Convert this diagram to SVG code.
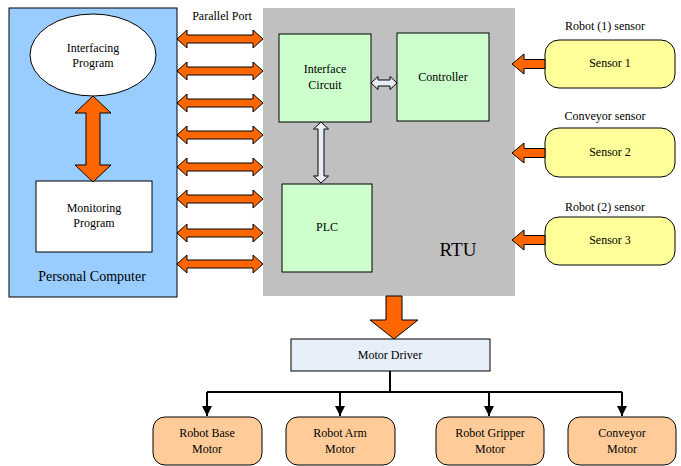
<svg xmlns="http://www.w3.org/2000/svg" width="681" height="466" viewBox="0 0 681 466" font-family="'Liberation Serif', 'DejaVu Serif', 'Times New Roman', serif">
<style>
text{font-family:'Liberation Serif','DejaVu Serif','Times New Roman',serif;font-size:12px;fill:#000;text-anchor:middle}
.box{stroke:#000;stroke-width:1}
.org{fill:#ff6600;stroke:#000;stroke-width:1;stroke-linejoin:miter}
.wht{fill:#e8eef8;stroke:#000;stroke-width:1}
.ln{stroke:#000;stroke-width:2;fill:none}
</style>
<defs>
<polygon id="dbl" class="org" points="177,0 187,-9 187,-4 253,-4 253,-9 263,0 253,9 253,4 187,4 187,9"/>
<polygon id="sarr" class="org" points="512,0 524,-10 524,-4.5 545,-4.5 545,4.5 524,4.5 524,10"/>
<marker id="ah" viewBox="0 0 10 10" refX="10" refY="5" markerWidth="5" markerHeight="5" orient="auto" markerUnits="strokeWidth">
<path d="M0,0 L10,5 L0,10 z" fill="#000"/>
</marker>
</defs>
<rect width="681" height="466" fill="#fff"/>
<g id="pc">
<rect class="box" x="9" y="8" width="168" height="289" fill="#99ccff"/>
<text x="92" y="281" style="font-size:14px">Personal Computer</text>
</g>
<g id="interfacing">
<ellipse class="box" cx="93" cy="55" rx="63" ry="41" fill="#fff"/>
<text x="93" y="52">Interfacing</text>
<text x="93" y="67">Program</text>
</g>
<g id="monitoring">
<rect class="box" x="36" y="181" width="116" height="71" fill="#fff"/>
<text x="94" y="212">Monitoring</text>
<text x="94" y="227">Program</text>
</g>
<g id="rtu">
<rect x="263" y="8" width="252" height="288" fill="#c0c0c0"/>
<text x="458" y="256" style="font-size:19px">RTU</text>
</g>
<g id="interface-circuit">
<rect class="box" x="279" y="34" width="92" height="88" fill="#ccffcc"/>
<text x="325" y="73">Interface</text>
<text x="325" y="89">Circuit</text>
</g>
<g id="controller">
<rect class="box" x="397" y="33" width="92" height="88" fill="#ccffcc"/>
<text x="443" y="81">Controller</text>
</g>
<g id="plc">
<rect class="box" x="282" y="184" width="90" height="88" fill="#ccffcc"/>
<text x="327" y="231">PLC</text>
</g>
<g id="sensor1">
<text x="605" y="30">Robot (1) sensor</text>
<rect class="box" x="545" y="40" width="130" height="48" rx="14" fill="#ffff99"/>
<text x="610" y="67">Sensor 1</text>
</g>
<g id="sensor2">
<text x="605" y="120">Conveyor sensor</text>
<rect class="box" x="545" y="128" width="130" height="49" rx="14" fill="#ffff99"/>
<text x="610" y="156">Sensor 2</text>
</g>
<g id="sensor3">
<text x="605" y="211">Robot (2) sensor</text>
<rect class="box" x="545" y="217" width="130" height="48" rx="14" fill="#ffff99"/>
<text x="610" y="244">Sensor 3</text>
</g>
<g id="motor-driver">
<rect class="box" x="291" y="339" width="199" height="32" fill="#e6eef8"/>
<text x="390" y="359">Motor Driver</text>
</g>
<g id="robot-base-motor">
<rect class="box" x="153" y="417" width="109" height="48" rx="12" fill="#ffcc99"/>
<text x="207" y="437">Robot Base</text>
<text x="207" y="453">Motor</text>
</g>
<g id="robot-arm-motor">
<rect class="box" x="286" y="417" width="109" height="48" rx="12" fill="#ffcc99"/>
<text x="340" y="437">Robot Arm</text>
<text x="340" y="453">Motor</text>
</g>
<g id="robot-gripper-motor">
<rect class="box" x="436" y="417" width="108" height="48" rx="12" fill="#ffcc99"/>
<text x="490" y="437">Robot Gripper</text>
<text x="490" y="453">Motor</text>
</g>
<g id="conveyor-motor">
<rect class="box" x="568" y="417" width="108" height="48" rx="12" fill="#ffcc99"/>
<text x="622" y="437">Conveyor</text>
<text x="622" y="453">Motor</text>
</g>
<g id="connectors">
<text x="222" y="20">Parallel Port</text>
<use href="#dbl" transform="translate(0,39)"/>
<use href="#dbl" transform="translate(0,71)"/>
<use href="#dbl" transform="translate(0,103)"/>
<use href="#dbl" transform="translate(0,135)"/>
<use href="#dbl" transform="translate(0,167)"/>
<use href="#dbl" transform="translate(0,199)"/>
<use href="#dbl" transform="translate(0,233)"/>
<use href="#dbl" transform="translate(0,264)"/>
<polygon class="org" points="93,96 111,113 100,113 100,165 111,165 93,182 75,165 86,165 86,113 75,113"/>
<polygon class="wht" points="371,83 378,76.5 378,80 390,80 390,76.5 397,83 390,89.5 390,86 378,86 378,89.5"/>
<polygon class="wht" points="321,122 328.5,129 324,129 324,176 328.5,176 321,183 313.5,176 318,176 318,129 313.5,129"/>
<use href="#sarr" transform="translate(0,64)"/>
<use href="#sarr" transform="translate(0,153)"/>
<use href="#sarr" transform="translate(0,240)"/>
<polygon class="org" points="386,296 402,296 402,320 418,320 394,339 370,320 386,320"/>
<path class="ln" d="M390,371 V392 M207,392 H622"/>
<path class="ln" d="M207,392 V416" marker-end="url(#ah)"/>
<path class="ln" d="M340,392 V416" marker-end="url(#ah)"/>
<path class="ln" d="M489,392 V416" marker-end="url(#ah)"/>
<path class="ln" d="M622,392 V416" marker-end="url(#ah)"/>
</g>
</svg>
